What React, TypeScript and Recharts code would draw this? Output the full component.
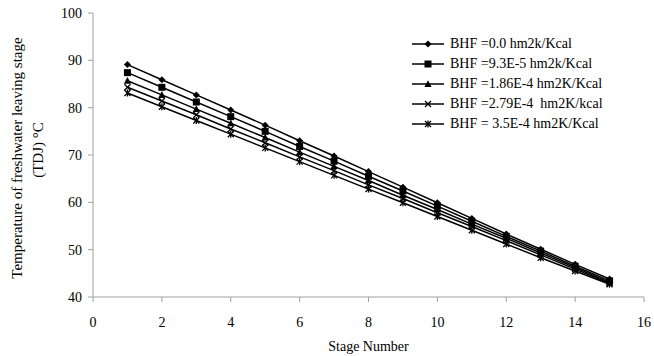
import React from "react";
import { LineChart, Line, XAxis, YAxis } from "recharts";

const stages = [1, 2, 3, 4, 5, 6, 7, 8, 9, 10, 11, 12, 13, 14, 15];
const bhf0 = [89.1, 85.9, 82.7, 79.5, 76.3, 73.0, 69.8, 66.5, 63.2, 59.9, 56.6, 53.3, 50.1, 46.9, 43.8];
const bhf1 = [87.4, 84.3, 81.2, 78.1, 75.0, 71.8, 68.7, 65.5, 62.4, 59.2, 56.0, 52.8, 49.7, 46.5, 43.4];
const bhf2 = [85.7, 82.7, 79.7, 76.7, 73.7, 70.6, 67.6, 64.6, 61.5, 58.5, 55.4, 52.4, 49.3, 46.2, 43.1];
const bhf3 = [84.3, 81.4, 78.5, 75.5, 72.6, 69.6, 66.7, 63.7, 60.8, 57.8, 54.9, 51.9, 48.9, 45.9, 42.9];
const bhf4 = [83.1, 80.2, 77.3, 74.4, 71.5, 68.6, 65.7, 62.8, 59.9, 57.0, 54.1, 51.2, 48.3, 45.5, 42.7];

const seriesNames = [
  "BHF =0.0 hm2k/Kcal",
  "BHF =9.3E-5 hm2k/Kcal",
  "BHF =1.86E-4 hm2K/Kcal",
  "BHF =2.79E-4  hm2K/kcal",
  "BHF = 3.5E-4 hm2K/Kcal",
];
const seriesKeys = ["s0", "s1", "s2", "s3", "s4"];
const seriesShapes = ["diamond", "square", "triangle", "cross", "star"];
const xTicks = [0, 2, 4, 6, 8, 10, 12, 14, 16];
const yTicks = [40, 50, 60, 70, 80, 90, 100];
const yTitle1 = "Temperature of freshwater leaving stage";
const yTitle2 = "(TDJ) °C";
const xTitle = "Stage Number";

const allSeries = [bhf0, bhf1, bhf2, bhf3, bhf4];
const data = stages.map((s, i) => {
  const row: any = { stage: s };
  allSeries.forEach((arr, k) => {
    row[seriesKeys[k]] = arr[i];
  });
  return row;
});

const FONT = "'Liberation Serif', 'Times New Roman', serif";
const INK = "#000";

function Marker({ shape, cx, cy }: { shape: string; cx: number; cy: number }) {
  if (cx == null || cy == null) return null;
  switch (shape) {
    case "diamond":
      return (
        <polygon
          points={`${cx},${cy - 3.5} ${cx + 3.5},${cy} ${cx},${cy + 3.5} ${cx - 3.5},${cy}`}
          fill={INK}
        />
      );
    case "square":
      return <rect x={cx - 3.5} y={cy - 3.5} width={7} height={7} fill={INK} />;
    case "triangle":
      return (
        <polygon
          points={`${cx},${cy - 3.8} ${cx + 3.6},${cy + 3} ${cx - 3.6},${cy + 3}`}
          fill={INK}
        />
      );
    case "cross":
      return (
        <g stroke={INK} strokeWidth={1.3}>
          <line x1={cx - 3} y1={cy - 3} x2={cx + 3} y2={cy + 3} />
          <line x1={cx - 3} y1={cy + 3} x2={cx + 3} y2={cy - 3} />
        </g>
      );
    default:
      return (
        <g stroke={INK} strokeWidth={1.3}>
          <line x1={cx - 3} y1={cy - 3} x2={cx + 3} y2={cy + 3} />
          <line x1={cx - 3} y1={cy + 3} x2={cx + 3} y2={cy - 3} />
          <line x1={cx} y1={cy - 3.5} x2={cx} y2={cy + 3.5} />
        </g>
      );
  }
}

const makeDot = (shape: string) => (props: any) => (
  <Marker key={`${shape}-${props.index}`} shape={shape} cx={props.cx} cy={props.cy} />
);

function LegendBox() {
  return (
    <div
      style={{
        position: "absolute",
        left: 410,
        top: 34,
        fontFamily: FONT,
        fontSize: 14,
        color: INK,
      }}
    >
      {seriesNames.map((name, i) => (
        <div key={name} style={{ display: "flex", alignItems: "center", height: 20, whiteSpace: "pre" }}>
          <svg width={36} height={12} style={{ marginRight: 4 }}>
            <line x1={2} y1={6} x2={34} y2={6} stroke={INK} strokeWidth={1.5} />
            <Marker shape={seriesShapes[i]} cx={18} cy={6} />
          </svg>
          <span>{name}</span>
        </div>
      ))}
    </div>
  );
}

function YTitle() {
  return (
    <g fontFamily={FONT} fontSize={15} fill={INK}>
      <text x={17} y={158} textAnchor="middle" dominantBaseline="central" transform="rotate(-90, 17, 158)">
        {yTitle1}
      </text>
      <text x={38} y={150} textAnchor="middle" dominantBaseline="central" transform="rotate(-90, 38, 150)">
        {yTitle2}
      </text>
    </g>
  );
}

export default function App() {
  return (
    <div style={{ position: "absolute", left: 0, top: 0, width: 654, height: 356, background: "#fff" }}>
      <LineChart width={654} height={356} data={data} margin={{ top: 13, right: 10, bottom: 3, left: 0 }}>
        <XAxis
          dataKey="stage"
          type="number"
          domain={[0, 16]}
          ticks={xTicks}
          stroke="#a0a0a0"
          tickSize={5}
          tickMargin={15}
          height={56}
          tick={{ fill: INK, fontSize: 14, fontFamily: FONT }}
          label={{ value: xTitle, position: "insideBottom", offset: 2, fill: INK, fontSize: 14, fontFamily: FONT }}
        />
        <YAxis
          type="number"
          domain={[40, 100]}
          ticks={yTicks}
          stroke="#a0a0a0"
          tickSize={5}
          tickMargin={6}
          width={93}
          tick={{ fill: INK, fontSize: 14, fontFamily: FONT }}
          label={<YTitle />}
        />
        {seriesKeys.map((k, i) => (
          <Line
            key={k}
            dataKey={k}
            name={seriesNames[i]}
            stroke={INK}
            strokeWidth={1.5}
            dot={makeDot(seriesShapes[i])}
            activeDot={false}
            isAnimationActive={false}
          />
        ))}
      </LineChart>
      <LegendBox />
    </div>
  );
}
